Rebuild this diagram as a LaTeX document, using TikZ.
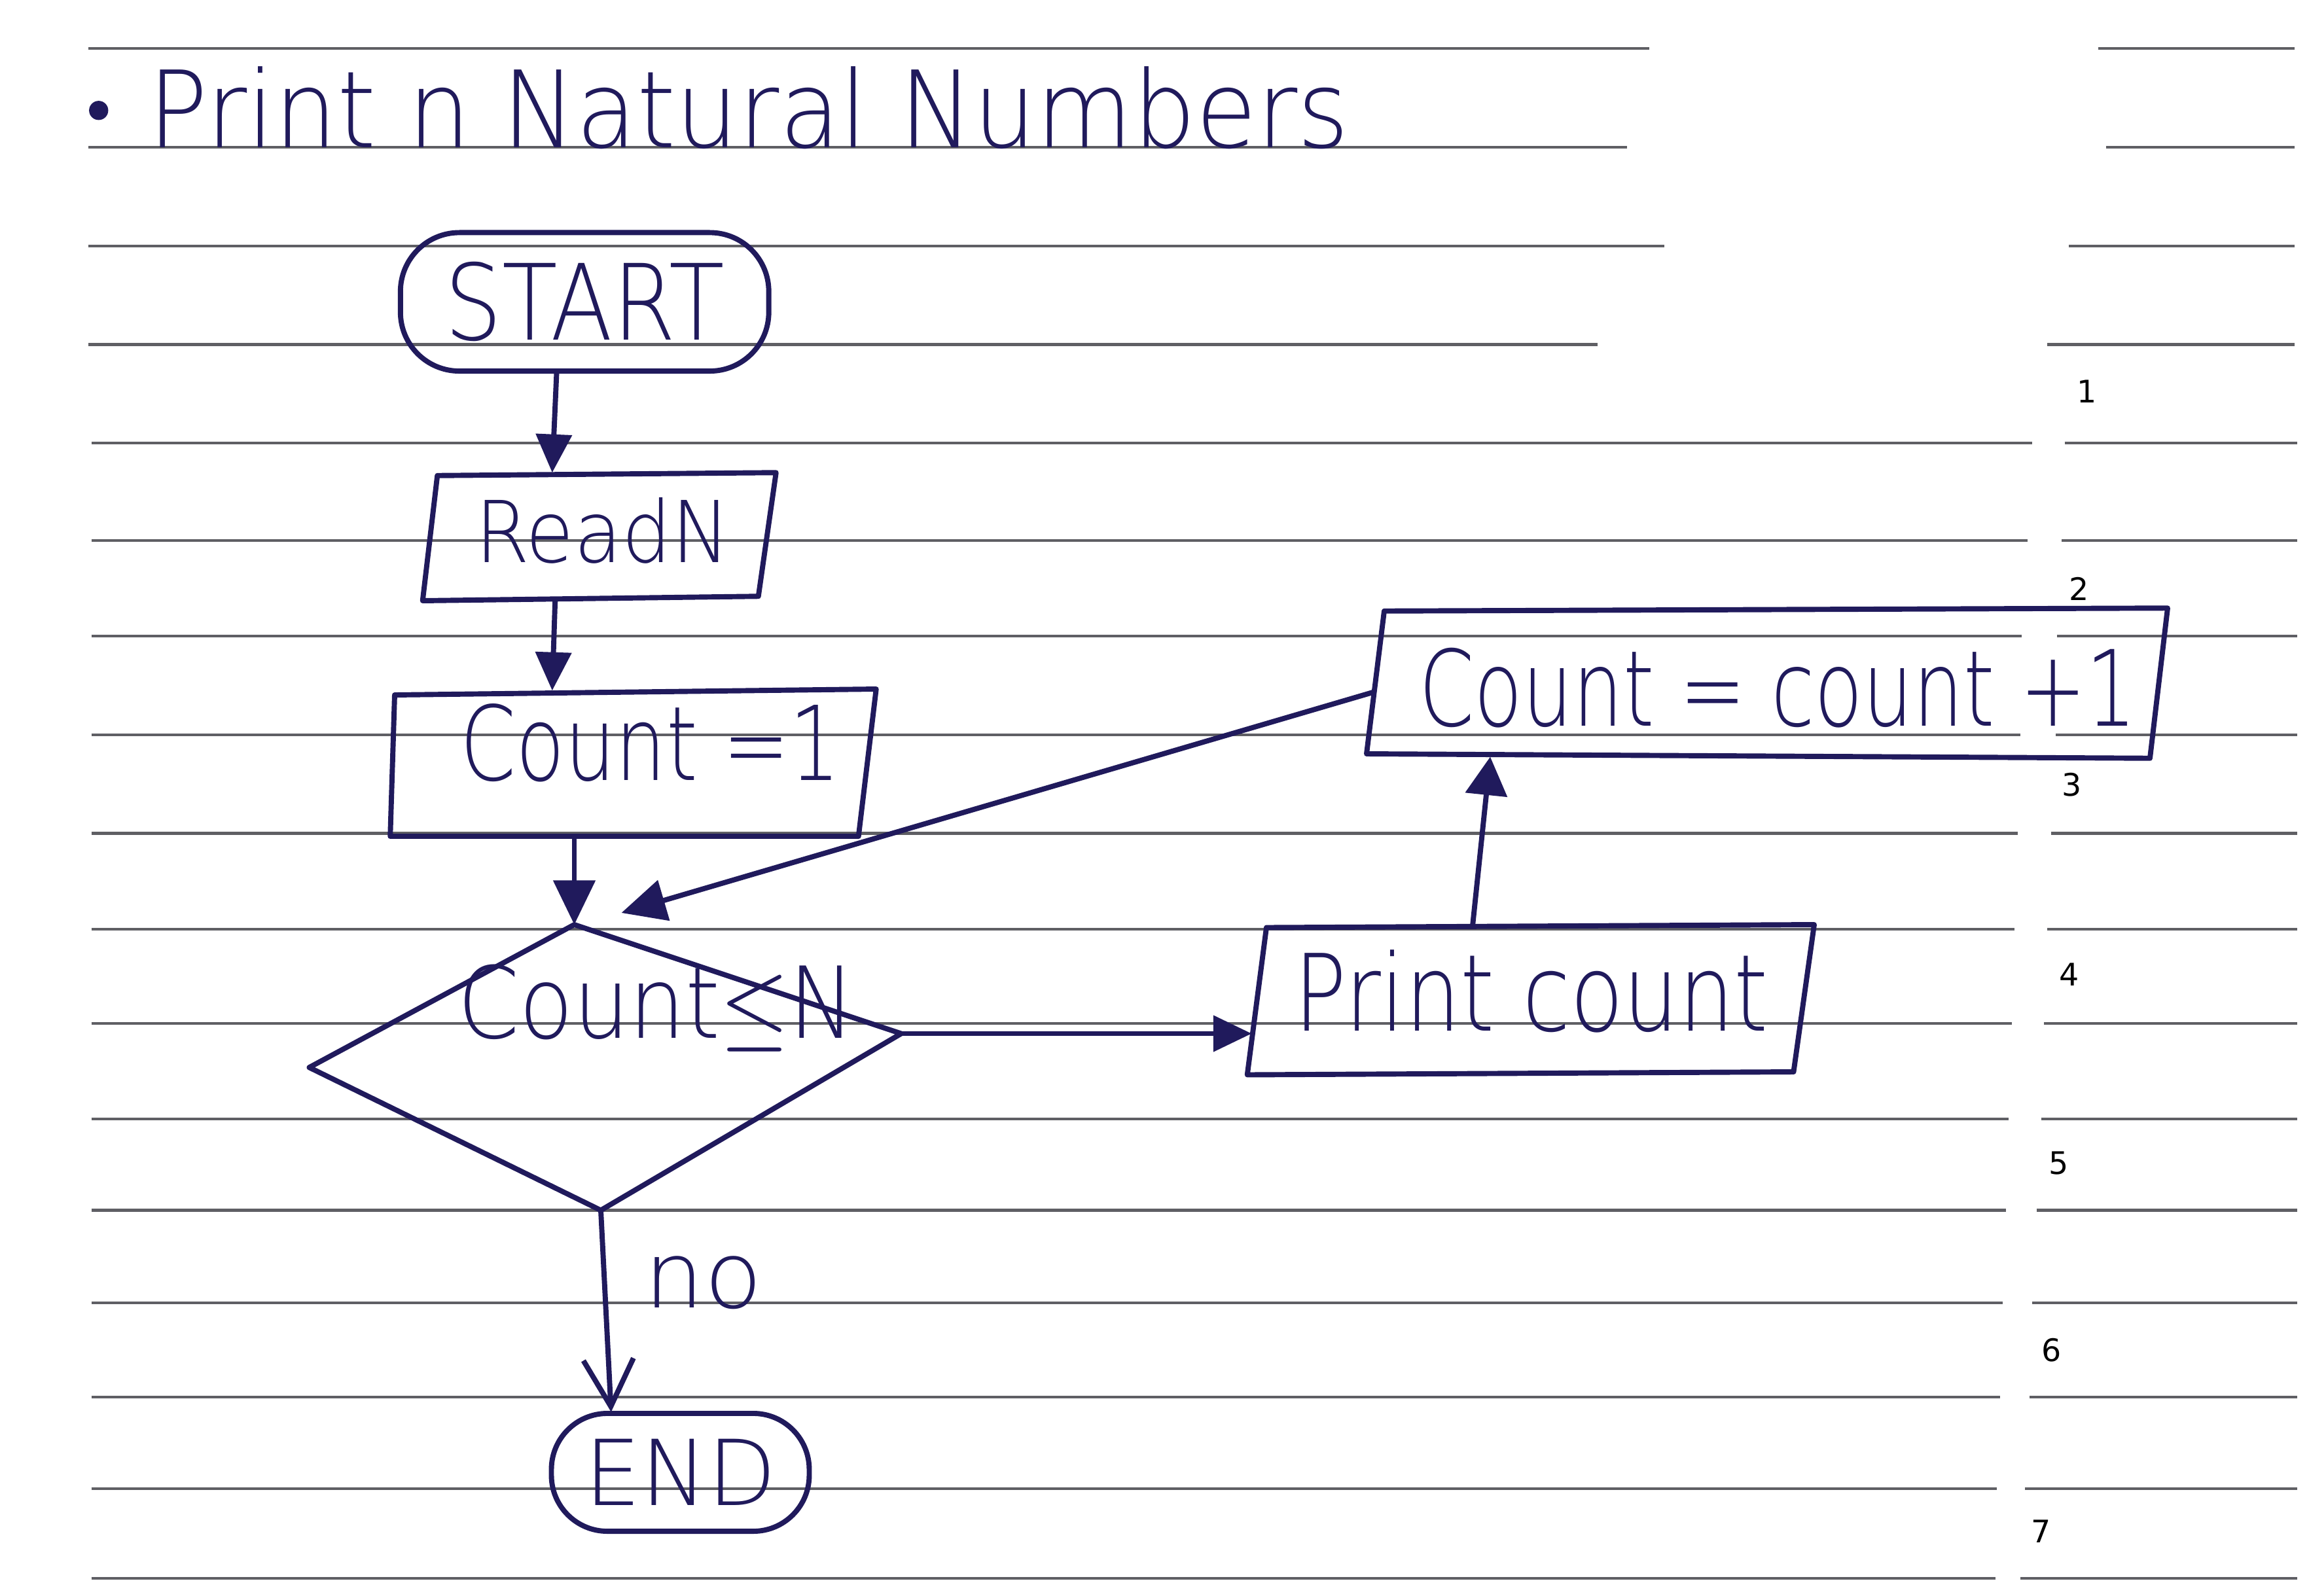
\documentclass[tikz,border=0pt]{standalone}
\usepackage{fontspec}
\setmainfont{DejaVu Sans ExtraLight}
\newfontfamily\dvs{DejaVu Sans}
\usetikzlibrary{arrows.meta}
\definecolor{ink}{RGB}{32,26,92}
\definecolor{rulec}{RGB}{95,95,100}
\begin{document}
\begin{tikzpicture}[x=0.01cm,y=-0.01cm,
  ink/.style={draw=ink, line width=1pt, line join=round},
  lbl/.style={text=ink, inner sep=0pt, anchor=base west},
  flow/.style={ink, -{Triangle[length=0.26cm,width=0.24cm]}},
  openflow/.style={ink, -{Straight Barb[length=0.32cm,width=0.34cm]}},
  ruled/.style={draw=rulec, line width=0.55pt},
  term/.style={ink, rounded corners=0.4cm, text=ink, inner sep=0pt},
  numlbl/.style={font=\dvs\fontsize{6}{7}\selectfont, text=black, inner sep=0pt}]

\useasboundingbox[fill=white] (0,0) rectangle (1568,1084);

% ruled paper lines
\foreach \y/\a/\b in {33/1120/1425, 100/1105/1430, 167/1130/1405, 234/1085/1390}
  {\draw[ruled] (60,\y) -- (\a,\y) (\b,\y) -- (1558,\y);}
\foreach \y/\a/\b in {301/1380/1402, 367/1377/1400, 432/1373/1397, 499/1372/1396,
  566/1370/1393, 631/1368/1390, 695/1366/1388, 760/1364/1386, 822/1362/1383,
  885/1360/1380, 949/1358/1378, 1011/1356/1375, 1072/1355/1372}
  {\draw[ruled] (62,\y) -- (\a,\y) (\b,\y) -- (1560,\y);}

% margin numbers
\node[numlbl] (n1) at (1417,266) {1};
\node[numlbl] (n2) at (1412,400) {2};
\node[numlbl] (n3) at (1407,533) {3};
\node[numlbl] (n4) at (1405,662) {4};
\node[numlbl] (n5) at (1398,790) {5};
\node[numlbl] (n6) at (1393,917) {6};
\node[numlbl] (n7) at (1386,1040) {7};

% title
\node[circle, fill=ink, minimum size=0.13cm, inner sep=0pt] (bullet) at (67,75) {};
\node[lbl] (title) at (100,100) {\resizebox{8.15cm}{0.55cm}{Print n Natural Numbers}};

% START
\node[term, draw, minimum width=2.5cm, minimum height=0.94cm] (start) at (397,205)
  {\resizebox{1.9cm}{0.53cm}{START}};

% Read N
\coordinate (r1) at (297,323); \coordinate (r2) at (527,321);
\coordinate (r3) at (515,405); \coordinate (r4) at (287,408);
\draw[ink] (r1) -- (r2) -- (r3) -- (r4) -- cycle;
\node[lbl] (readn) at (322,382) {\resizebox{1.73cm}{0.44cm}{ReadN}};

% Count = 1
\coordinate (c1) at (268,472); \coordinate (c2) at (595,468);
\coordinate (c3) at (583,568); \coordinate (c4) at (265,568);
\draw[ink] (c1) -- (c2) -- (c3) -- (c4) -- cycle;
\node[lbl] (init) at (312,530) {\resizebox{2.58cm}{0.52cm}{Count =1}};

% decision
\coordinate (dt) at (390,628); \coordinate (dr) at (612,702);
\coordinate (db) at (408,822); \coordinate (dl) at (210,725);
\draw[ink] (dt) -- (dr) -- (db) -- (dl) -- cycle;
\node[lbl] (cond) at (310,705) {\resizebox{2.7cm}{0.5cm}{Count\(\leq\)N}};

% Print count
\coordinate (p1) at (860,630); \coordinate (p2) at (1232,628);
\coordinate (p3) at (1218,728); \coordinate (p4) at (847,730);
\draw[ink] (p1) -- (p2) -- (p3) -- (p4) -- cycle;
\node[lbl] (print) at (878,700) {\resizebox{3.22cm}{0.55cm}{Print count}};

% Count = count + 1
\coordinate (q1) at (940,415); \coordinate (q2) at (1472,413);
\coordinate (q3) at (1460,515); \coordinate (q4) at (928,512);
\draw[ink] (q1) -- (q2) -- (q3) -- (q4) -- cycle;
\node[lbl] (incr) at (963,493) {\resizebox{4.87cm}{0.53cm}{Count = count +1}};

% END
\node[term, draw, rounded corners=0.38cm, minimum width=1.75cm, minimum height=0.8cm] (end) at (462,1000)
  {\resizebox{1.3cm}{0.45cm}{END}};

% connector end points
\coordinate (s-out) at (378,253);  \coordinate (rn-in) at (375,321);
\coordinate (rn-out) at (377,407); \coordinate (c-in) at (375,469);
\coordinate (c-out) at (390,568);
\coordinate (p-in) at (850,702);
\coordinate (p-out) at (1000,629); \coordinate (q-in) at (1012,514);
\coordinate (q-out) at (933,470);  \coordinate (loop-in) at (422,620);
\coordinate (e-in) at (415,959);

% connectors
\draw[flow] (s-out) -- (rn-in);
\draw[flow] (rn-out) -- (c-in);
\draw[flow, -{Triangle[length=0.3cm,width=0.28cm]}] (c-out) -- (dt);
\draw[flow] (dr) -- (p-in);
\draw[flow, -{Triangle[length=0.26cm,width=0.28cm]}] (p-out) -- (q-in);
\draw[flow, -{Triangle[length=0.3cm,width=0.28cm]}] (q-out) -- (loop-in);
\draw[openflow] (db) -- (e-in);
\node[lbl] (no) at (437,888) {\resizebox{0.8cm}{0.35cm}{no}};

\end{tikzpicture}
\end{document}
